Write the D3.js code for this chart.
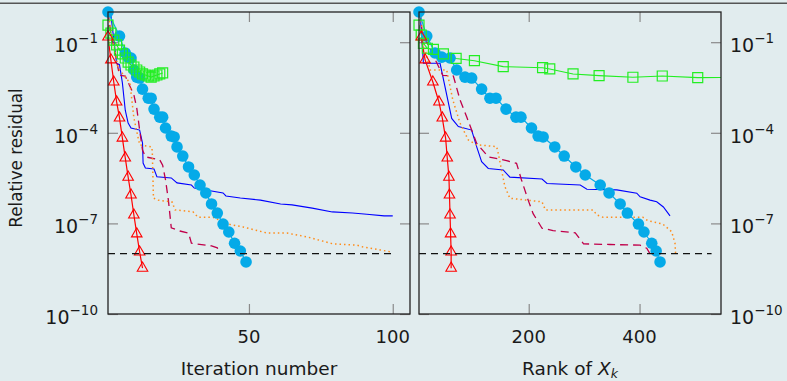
<!DOCTYPE html>
<html>
<head>
<meta charset="utf-8">
<script src="https://cdn.jsdelivr.net/npm/d3@7"></script>
<style>
  body { margin: 0; background: #e1ecee; }
  svg text { font-family: "DejaVu Sans", sans-serif; fill: #1a1a1a; }
</style>
</head>
<body>
<svg id="chart" width="787" height="381"></svg>
<script>
// ---- data ----
var yTicks = [1e-1, 1e-4, 1e-7, 1e-10];
var iterTicks = [50, 100];
var rankTicks = [200, 400];
var refLevel = 1e-8;
var refIter = [1, 100];
var refRank = [2, 530];

// red triangles: same residuals in both panels
var triIter = [1, 2, 3, 4, 5, 6, 7, 8, 9, 10, 11, 12, 13];
var triRank = [6, 13, 27, 38, 44, 50, 53, 56, 57, 58, 59, 60, 60];
var triRes = [0.149, 0.026, 4.8e-3, 1.05e-3, 3.1e-4, 6.7e-5, 1.47e-5, 3.4e-6, 8.7e-7, 1.9e-7, 4.5e-8, 1.13e-8, 3.3e-9];

// cyan circles
var circIter = [1, 5, 7, 8, 9, 10, 11, 12, 13, 15, 16, 17, 19, 20, 21, 23, 24, 25, 27, 29, 31, 33, 35, 37, 39, 41, 43, 45, 47, 49];
var circRank = [2, 16, 31, 43, 58, 70, 85, 97, 115, 130, 141, 159, 177, 186, 205, 217, 226, 247, 264, 285, 302, 329, 345, 365, 378, 398, 408, 422, 430, 437];
var circRes = [1, 0.16, 0.044, 0.032, 0.030, 0.012, 7.0e-3, 6.5e-3, 2.8e-3, 1.4e-3, 1.4e-3, 6.1e-4, 3.3e-4, 3.3e-4, 1.44e-4, 7.8e-5, 7.3e-5, 3.4e-5, 1.7e-5, 7.4e-6, 4.0e-6, 1.87e-6, 1.02e-6, 4.4e-7, 2.2e-7, 9.5e-8, 5.2e-8, 2.2e-8, 1.22e-8, 5.3e-9];

// green squares
var greenIter = [1, 2, 3, 4, 5, 6, 7, 8, 9, 10, 11, 12, 13, 14, 15, 16, 17, 18, 19, 20];
var greenResL = [0.37, 0.20, 0.118, 0.081, 0.055, 0.041, 0.030, 0.022, 0.0176, 0.0151, 0.012, 0.0103, 8.9e-3, 8.2e-3, 7.6e-3, 7.0e-3, 7.6e-3, 8.2e-3, 8.9e-3, 9.6e-3];
var greenRank = [2, 6, 10, 17, 28, 46, 69, 102, 154, 225, 238, 280, 327, 388, 441, 505, 580];
var greenResR = [0.37, 0.173, 0.092, 0.063, 0.058, 0.041, 0.029, 0.0244, 0.0155, 0.0143, 0.013, 8.9e-3, 7.8e-3, 6.9e-3, 7.6e-3, 6.7e-3, 6.9e-3];

// blue solid
var blueIter = [1, 2, 4, 5, 6, 7, 8, 9, 12, 13, 13.2, 14, 17, 18, 23, 25, 30, 31, 41, 42, 47, 54, 61, 65, 72, 79, 86, 91, 97, 100];
var blueResL = [1, 0.8, 0.020, 0.018, 4.5e-3, 5.6e-4, 2.1e-4, 1.45e-4, 1.23e-4, 4.6e-5, 1.0e-5, 6.8e-6, 6.3e-6, 3.5e-6, 3.2e-6, 2.2e-6, 1.86e-6, 1.48e-6, 1.02e-6, 8.1e-7, 6.9e-7, 5.9e-7, 4.4e-7, 4.1e-7, 3.2e-7, 2.4e-7, 2.2e-7, 2.0e-7, 1.78e-7, 1.78e-7];
var blueRank = [2, 4, 10, 40, 61, 73, 97, 106, 115, 127, 154, 166, 224, 233, 293, 305, 359, 395, 401, 419, 431, 443, 455];
var blueResR = [1, 0.93, 0.020, 0.020, 3.0e-4, 1.6e-4, 1.23e-4, 3.5e-5, 1.1e-5, 6.6e-6, 5.9e-6, 3.4e-6, 2.95e-6, 2.1e-6, 1.86e-6, 1.35e-6, 1.29e-6, 1.0e-6, 7.6e-7, 5.9e-7, 5.2e-7, 3.5e-7, 1.78e-7];

// purple dashed
var crimIter = [1, 2, 5, 7, 10, 11, 12, 13, 14, 19, 20, 21, 22, 23, 26, 29, 30, 37, 39, 40];
var crimResL = [1, 0.2, 8.1e-3, 7.6e-3, 1.8e-3, 6.6e-4, 1.23e-4, 2.7e-5, 1.6e-5, 1.26e-5, 8.5e-6, 2.75e-6, 5.9e-7, 7.1e-8, 5.6e-8, 4.8e-8, 2.2e-8, 1.8e-8, 1.55e-8, 9.8e-9];
var crimRank = [4, 8, 45, 64, 76, 88, 106, 127, 160, 178, 187, 199, 208, 224, 244, 284, 299, 347, 401, 413, 419];
var crimResR = [1, 0.2, 8e-3, 7.6e-3, 1.23e-3, 3.4e-4, 4.5e-5, 1.6e-5, 1.2e-5, 9.8e-6, 2.75e-6, 5.9e-7, 2.1e-7, 6.9e-8, 5.8e-8, 4.9e-8, 2.1e-8, 2.0e-8, 1.9e-8, 1.5e-8, 9.8e-9];

// orange dotted
var orIter = [1, 2.4, 4.5, 8.6, 9.3, 10, 12, 16.2, 16.4, 16.8, 18.4, 23.3, 24.3, 30.6, 32.3, 37.5, 42.7, 48, 56.3, 63.2, 70.6, 79.2, 87.6, 89.7, 95.6, 99.7];
var orResL = [1, 0.17, 0.014, 4.5e-3, 1.23e-3, 3.1e-4, 4.0e-5, 3.4e-5, 2.4e-5, 6.9e-7, 5.9e-7, 5.1e-7, 2.8e-7, 2.4e-7, 1.6e-7, 1.6e-7, 9.5e-8, 7.6e-8, 4.8e-8, 4.8e-8, 3.5e-8, 2.1e-8, 1.9e-8, 1.65e-8, 1.32e-8, 1.13e-8];
var orRank = [4, 10, 22, 52, 63, 76, 91, 106, 142, 145, 151, 157, 166, 196, 224, 230, 316, 323, 334, 406, 415, 442, 458, 464, 465];
var orResR = [1, 0.1, 0.012, 0.012, 1.23e-3, 2.1e-4, 5.8e-5, 4.0e-5, 3.5e-5, 2.1e-5, 5.9e-6, 1.65e-6, 6.8e-7, 5.9e-7, 5.2e-7, 2.8e-7, 2.8e-7, 1.9e-7, 1.6e-7, 1.6e-7, 1.23e-7, 9.5e-8, 5.3e-8, 2.2e-8, 1.02e-8];

// ---- drawing ----
var svg = d3.select("#chart");
var y = d3.scaleLog().domain([1e-10, 1]).range([314, 12]);

svg.append("rect").attr("x", 0).attr("y", 2.5).attr("width", 787).attr("height", 1.5).attr("fill", "#555");

var panels = [
    {
        id: "left",
        x: d3.scaleLinear().domain([1, 106]).range([108, 410]),
        ticks: iterTicks,
        blue: [blueIter, blueResL], crim: [crimIter, crimResL], orange: [orIter, orResL],
        circ: [circIter, circRes], green: [greenIter, greenResL], tri: [triIter, triRes],
        ref: refIter
    },
    {
        id: "right",
        x: d3.scaleLinear().domain([2, 547]).range([419, 721]),
        ticks: rankTicks,
        blue: [blueRank, blueResR], crim: [crimRank, crimResR], orange: [orRank, orResR],
        circ: [circRank, circRes], green: [greenRank, greenResR], tri: [triRank, triRes],
        ref: refRank
    }
];

panels.forEach(function (p) {
    var x = p.x;
    var x0 = x.range()[0], x1 = x.range()[1];
    var g = svg.append("g");

    svg.append("clipPath").attr("id", "clip-" + p.id)
        .append("rect").attr("x", x0).attr("y", 12).attr("width", x1 - x0).attr("height", 302);

    // ticks on all four sides, pointing inward
    var tickStyle = function (sel) {
        sel.select(".domain").remove();
        sel.selectAll("line").attr("stroke", "#8a8a8a").attr("stroke-width", 1.2);
    };
    g.append("g").attr("transform", "translate(0,314)")
        .call(d3.axisBottom(x).tickValues(p.ticks).tickSize(-10).tickFormat("")).call(tickStyle);
    g.append("g").attr("transform", "translate(0,12)")
        .call(d3.axisTop(x).tickValues(p.ticks).tickSize(-10).tickFormat("")).call(tickStyle);
    g.append("g").attr("transform", "translate(" + x0 + ",0)")
        .call(d3.axisLeft(y).tickValues(yTicks).tickSize(-10).tickFormat("")).call(tickStyle);
    g.append("g").attr("transform", "translate(" + x1 + ",0)")
        .call(d3.axisRight(y).tickValues(yTicks).tickSize(-10).tickFormat("")).call(tickStyle);

    var line = d3.line().x(function (d) { return x(d[0]); }).y(function (d) { return y(d[1]); });
    var plot = g.append("g").attr("clip-path", "url(#clip-" + p.id + ")");
    var marks = g.append("g");

    function addLine(s, color, width, dash) {
        plot.append("path").datum(d3.zip(s[0], s[1]))
            .attr("d", line).attr("fill", "none")
            .attr("stroke", color).attr("stroke-width", width)
            .attr("stroke-dasharray", dash || null);
    }

    addLine(p.blue, "#0000ff", 1.1);
    addLine(p.crim, "#c0004a", 1.3, "8,5");
    addLine(p.orange, "#ff8c1a", 1.5, "1.5,3");

    // cyan circles with line
    addLine(p.circ, "#05aae8", 1.2);
    marks.selectAll(".circ").data(d3.zip(p.circ[0], p.circ[1])).enter()
        .append("circle")
        .attr("cx", function (d) { return x(d[0]); })
        .attr("cy", function (d) { return y(d[1]); })
        .attr("r", 5.8).attr("fill", "#05aae8");

    // green squares
    addLine(p.green, "#22ee22", 1.1);
    marks.selectAll(".sq").data(d3.zip(p.green[0], p.green[1]).filter(function (d) { return d[0] <= x.domain()[1]; }))
        .enter().append("path")
        .attr("transform", function (d) { return "translate(" + x(d[0]) + "," + y(d[1]) + ")"; })
        .attr("d", d3.symbol(d3.symbolSquare, 100))
        .attr("fill", "none").attr("stroke", "#22ee22").attr("stroke-width", 1.2);

    // red triangles
    addLine(p.tri, "#ff0000", 1.2);
    marks.selectAll(".tri").data(d3.zip(p.tri[0], p.tri[1])).enter()
        .append("path")
        .attr("transform", function (d) { return "translate(" + x(d[0]) + "," + y(d[1]) + ")"; })
        .attr("d", d3.symbol(d3.symbolTriangle, 48))
        .attr("fill", "none").attr("stroke", "#ff0000").attr("stroke-width", 1.1);

    // reference level
    g.append("path").datum(p.ref.map(function (v) { return [v, refLevel]; }))
        .attr("d", line).attr("fill", "none")
        .attr("stroke", "#111").attr("stroke-width", 1.2).attr("stroke-dasharray", "7,5");

    // frame
    g.append("rect").attr("x", x0).attr("y", 12).attr("width", x1 - x0).attr("height", 302)
        .attr("fill", "none").attr("stroke", "#222").attr("stroke-width", 1.3);

    // x tick labels
    g.selectAll(".xl").data(p.ticks).enter().append("text")
        .attr("x", function (d) { return x(d); }).attr("y", 343)
        .attr("text-anchor", "middle").attr("font-size", 18).text(function (d) { return d; });
});

// y tick labels: left of left panel, right of right panel
function yLabel(xPos, anchor) {
    var t = svg.selectAll(null).data(yTicks).enter().append("text")
        .attr("x", xPos).attr("y", function (d) { return y(d) + 10; })
        .attr("text-anchor", anchor).attr("font-size", 19);
    t.append("tspan").text("10");
    t.append("tspan").attr("dy", -9).attr("font-size", 13.5)
        .text(function (d) { return "\u2212" + Math.round(-Math.log10(d)); });
}
yLabel(98, "end");
yLabel(730, "start");

svg.append("text").attr("transform", "translate(22,158) rotate(-90)")
    .attr("text-anchor", "middle").attr("font-size", 16.8).text("Relative residual");

svg.append("text").attr("x", 259).attr("y", 375).attr("text-anchor", "middle")
    .attr("font-size", 18.5).text("Iteration number");

var rk = svg.append("text").attr("x", 570).attr("y", 375).attr("text-anchor", "middle").attr("font-size", 18.5);
rk.append("tspan").text("Rank of ");
rk.append("tspan").attr("font-style", "italic").text("X");
rk.append("tspan").attr("dy", 2.5).attr("font-size", 12.5).attr("font-style", "italic").text("k");
</script>
</body>
</html>
